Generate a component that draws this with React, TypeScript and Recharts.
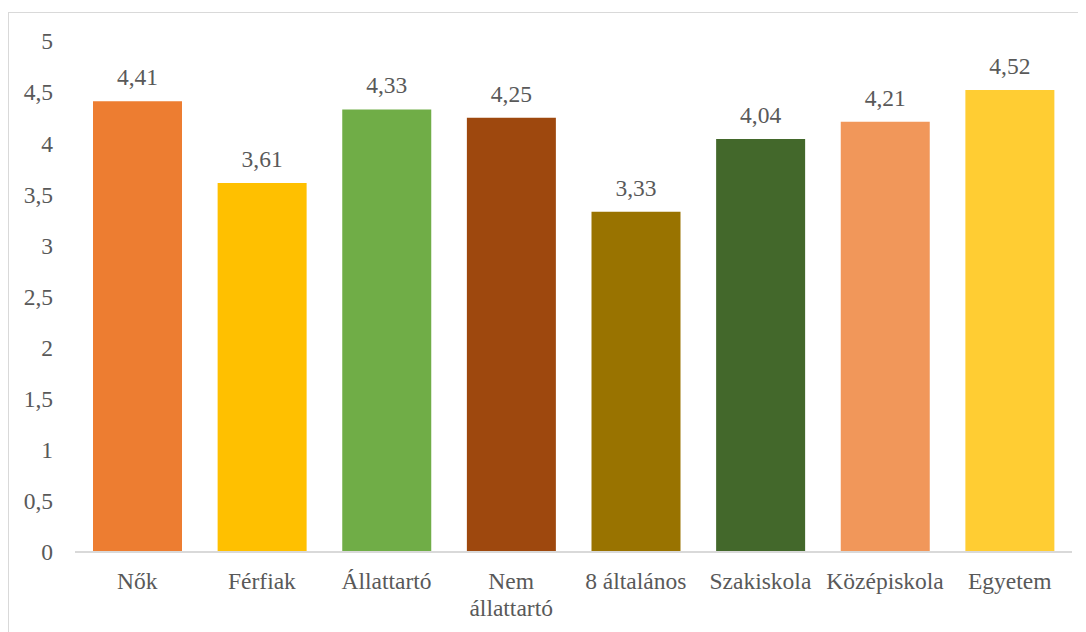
import React from 'react';
import { BarChart, Bar, XAxis, YAxis, Cell, LabelList } from 'recharts';

const categories = ['Nők', 'Férfiak', 'Állattartó', 'Nem\nállattartó', '8 általános', 'Szakiskola', 'Középiskola', 'Egyetem'];
const values = [4.41, 3.61, 4.33, 4.25, 3.33, 4.04, 4.21, 4.52];
const colors = ['#ED7D31', '#FFC000', '#70AD47', '#9E480E', '#997300', '#43682B', '#F1975A', '#FFCD33'];
const yTicks = [0, 0.5, 1, 1.5, 2, 2.5, 3, 3.5, 4, 4.5, 5];

const data = categories.map((name, i) => ({ name, value: values[i] }));

const FONT = '"Liberation Serif", "Times New Roman", serif';
const TEXT = '#595959';
const SIZE = 23.5;

const comma = (v: number | string) => String(v).replace('.', ',');

// category labels, some split over two lines
const CategoryTick = (props: any) => {
    const { x, y, payload } = props;
    const lines = String(payload.value).split('\n');
    return (
        <text x={x} y={y} textAnchor="middle" fill={TEXT} style={{ fontSize: SIZE, fontFamily: FONT }}>
            {lines.map((line, i) => (
                <tspan key={i} x={x} dy={i === 0 ? 37 : 27}>{line}</tspan>
            ))}
        </text>
    );
};

export default function App() {
    return (
        <div style={{ marginTop: 4, border: '1px solid #d9d9d9', width: 1100, height: 640, background: '#fff', fontFamily: FONT }}>
            <BarChart
                width={1100}
                height={620}
                data={data}
                margin={{ top: 28, right: 37, left: 12, bottom: 21 }}
                barSize={89}
                style={{ fontFamily: FONT }}
            >
                <XAxis
                    dataKey="name"
                    interval={0}
                    tickLine={false}
                    tickSize={0}
                    tickMargin={0}
                    height={60}
                    axisLine={{ stroke: '#d9d9d9', strokeWidth: 2 }}
                    tick={<CategoryTick />}
                />
                <YAxis
                    domain={[0, 5]}
                    ticks={yTicks}
                    width={54}
                    axisLine={false}
                    tickLine={false}
                    tickSize={0}
                    tickMargin={22}
                    tickFormatter={comma}
                    tick={{ fill: TEXT, fontSize: SIZE, fontFamily: FONT, style: { fontFamily: FONT } }}
                />
                <Bar dataKey="value" isAnimationActive={false}>
                    {data.map((d, i) => (
                        <Cell key={d.name} fill={colors[i]} />
                    ))}
                    <LabelList
                        dataKey="value"
                        position="top"
                        offset={16}
                        formatter={(v: any) => comma(v)}
                        fill={TEXT}
                        fontSize={SIZE}
                        style={{ fill: TEXT, fontSize: SIZE, fontFamily: FONT }}
                    />
                </Bar>
            </BarChart>
        </div>
    );
}
